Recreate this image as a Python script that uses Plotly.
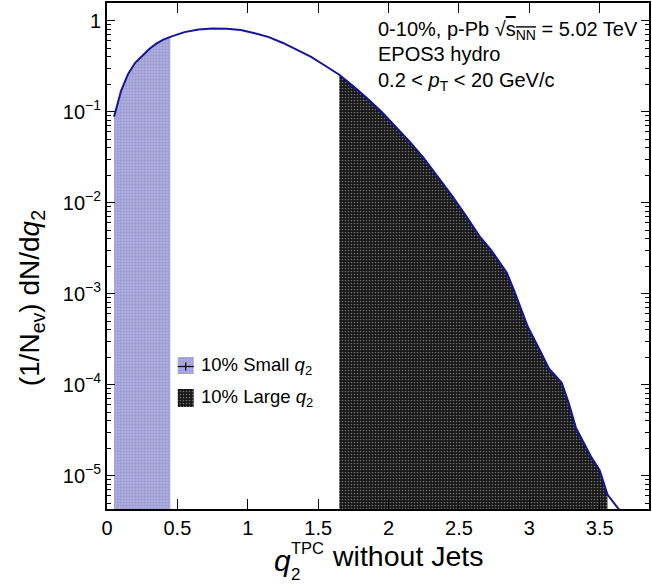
import plotly.graph_objects as go

# ---- data ----
q2 = [0.05, 0.10, 0.15, 0.20, 0.25, 0.30, 0.35, 0.40, 0.45, 0.55, 0.65, 0.75, 0.85, 0.95,
      1.05, 1.15, 1.25, 1.35, 1.45, 1.55, 1.65, 1.75, 1.85, 1.95, 2.05, 2.15, 2.25, 2.35,
      2.45, 2.55, 2.65, 2.73, 2.84, 2.89, 2.99, 3.08, 3.14, 3.18, 3.23, 3.28, 3.33, 3.44,
      3.50, 3.555, 3.65]
dNdq = [0.088, 0.17, 0.26, 0.345, 0.41, 0.49, 0.56, 0.62, 0.665, 0.75, 0.80, 0.82, 0.815, 0.79,
        0.73, 0.66, 0.57, 0.48, 0.40, 0.32, 0.255, 0.19, 0.14, 0.10, 0.068, 0.047, 0.031, 0.0195,
        0.012, 0.0072, 0.0042, 0.0030, 0.0017, 0.0011, 4.3e-4, 2.3e-4, 1.5e-4, 1.28e-4, 1.05e-4,
        6.3e-5, 3.4e-5, 1.6e-5, 1.14e-5, 6.2e-6, 4.0e-6]
small_range = (0.05, 0.45)
large_range = (1.65, 3.555)
xtick_vals = [0, 0.5, 1, 1.5, 2, 2.5, 3, 3.5]
xtick_text = ["0", "0.5", "1", "1.5", "2", "2.5", "3", "3.5"]
ytick_vals = [1e-5, 1e-4, 1e-3, 1e-2, 1e-1, 1]
ytick_text = ["10<sup>\u22125</sup>", "10<sup>\u22124</sup>", "10<sup>\u22123</sup>",
              "10<sup>\u22122</sup>", "10<sup>\u22121</sup>", "1"]
legend_labels = ["10% Small <i>q</i><sub>2</sub>", "10% Large <i>q</i><sub>2</sub>"]
info_lines = ["0-10%, p-Pb \u221a<span style='text-decoration:overline'>s<sub>NN</sub></span> = 5.02 TeV",
              "EPOS3 hydro",
              "0.2 < <i>p</i><sub>T</sub> < 20 GeV/c"]

FONT = "Liberation Sans, Arial, sans-serif"
LINE_COL = "#14149c"
BLUE_PAT = dict(shape=".", bgcolor="#b4b4e0", fgcolor="#8080c8", size=3, solidity=0.5)
BLACK_PAT = dict(shape=".", bgcolor="#151515", fgcolor="#c8c8c8", size=3, solidity=0.25)
FLOOR = 1e-9


def region(lo, hi):
    xs = [x for x in q2 if lo - 1e-9 <= x <= hi + 1e-9]
    ys = [y for x, y in zip(q2, dNdq) if lo - 1e-9 <= x <= hi + 1e-9]
    return xs + [xs[-1], xs[0]], ys + [FLOOR, FLOOR]


fig = go.Figure()
for rng, pat in ((small_range, BLUE_PAT), (large_range, BLACK_PAT)):
    xs, ys = region(*rng)
    fig.add_trace(go.Scatter(x=xs, y=ys, mode="lines", fill="toself", line=dict(width=0),
                             fillcolor="rgba(0,0,0,0)", fillpattern=pat, showlegend=False,
                             hoverinfo="skip"))
fig.add_trace(go.Scatter(x=q2, y=dNdq, mode="lines", line=dict(color=LINE_COL, width=2),
                         showlegend=False))

# legend swatches on an overlay axis (fractions of the plot area)
W, H, L, T = 544.0, 506.0, 107.0, 3.0
def fx(px): return (px - L) / W
def fy(py): return (T + H - py) / H

boxes = [((178, 194), (357, 374), BLUE_PAT), ((178, 194), (389, 407), BLACK_PAT)]
for (x0, x1), (y0, y1), pat in boxes:
    fig.add_trace(go.Scatter(x=[fx(x0), fx(x1), fx(x1), fx(x0), fx(x0)],
                             y=[fy(y0), fy(y0), fy(y1), fy(y1), fy(y0)],
                             xaxis="x2", yaxis="y2", mode="lines", fill="toself",
                             line=dict(width=0), fillcolor="rgba(0,0,0,0)", fillpattern=pat,
                             showlegend=False, hoverinfo="skip"))
fig.add_trace(go.Scatter(x=[fx(178), fx(194)], y=[fy(366.5), fy(366.5)], xaxis="x2", yaxis="y2",
                         mode="lines", line=dict(color="black", width=1.2), showlegend=False))
fig.add_trace(go.Scatter(x=[fx(186), fx(186)], y=[fy(362.5), fy(370.5)], xaxis="x2", yaxis="y2",
                         mode="lines", line=dict(color="black", width=1.2), showlegend=False))

ann = []
for lab, ypx in zip(legend_labels, (366, 398)):
    ann.append(dict(text=lab, x=fx(199), y=fy(ypx), xref="paper", yref="paper",
                    xanchor="left", yanchor="middle", showarrow=False,
                    font=dict(size=18.5, color="black", family=FONT)))
for line, ypx in zip(info_lines, (30, 54, 81)):
    ann.append(dict(text=line, x=fx(377), y=fy(ypx), xref="paper", yref="paper",
                    xanchor="left", yanchor="middle", showarrow=False,
                    font=dict(size=20, color="black", family=FONT)))
# axis titles
ann.append(dict(text="(1/N<sub>ev</sub>) dN/d<i>q</i><sub>2</sub>", x=fx(31), y=fy(298),
                xref="paper", yref="paper", xanchor="center", yanchor="middle",
                textangle=-90, showarrow=False, font=dict(size=28, color="black", family=FONT)))
ann.append(dict(text="<i>q</i>", x=fx(273), y=fy(560), xref="paper", yref="paper",
                xanchor="left", yanchor="middle", showarrow=False,
                font=dict(size=30, color="black", family=FONT)))
ann.append(dict(text="TPC", x=fx(290), y=fy(548), xref="paper", yref="paper",
                xanchor="left", yanchor="middle", showarrow=False,
                font=dict(size=16.5, color="black", family=FONT)))
ann.append(dict(text="2", x=fx(290), y=fy(574), xref="paper", yref="paper",
                xanchor="left", yanchor="middle", showarrow=False,
                font=dict(size=17, color="black", family=FONT)))
ann.append(dict(text="without Jets", x=fx(331), y=fy(556), xref="paper", yref="paper",
                xanchor="left", yanchor="middle", showarrow=False,
                font=dict(size=28.5, color="black", family=FONT)))

axis_common = dict(showline=True, linecolor="black", linewidth=2, mirror="ticks",
                   ticks="inside", tickcolor="black", showgrid=False, zeroline=False,
                   tickfont=dict(size=20, color="black", family=FONT))
fig.update_layout(
    width=652, height=584, margin=dict(l=107, r=1, t=3, b=75),
    paper_bgcolor="white", plot_bgcolor="white", showlegend=False,
    xaxis=dict(range=[0, 3.85], tickvals=xtick_vals, ticktext=xtick_text, ticklen=10,
               tickwidth=1.2, **axis_common),
    yaxis=dict(type="log", range=[-5.366, 0.195], tickvals=ytick_vals, ticktext=ytick_text,
               ticklen=8, tickwidth=1.2,
               minor=dict(ticks="inside", ticklen=4, tickcolor="black", tickwidth=1,
                          tickvals=[m * 10 ** e for e in range(-6, 1) for m in range(2, 10)]),
               **axis_common),
    xaxis2=dict(overlaying="x", range=[0, 1], visible=False),
    yaxis2=dict(overlaying="y", range=[0, 1], visible=False),
    annotations=ann,
)
fig.write_html("out.html")
